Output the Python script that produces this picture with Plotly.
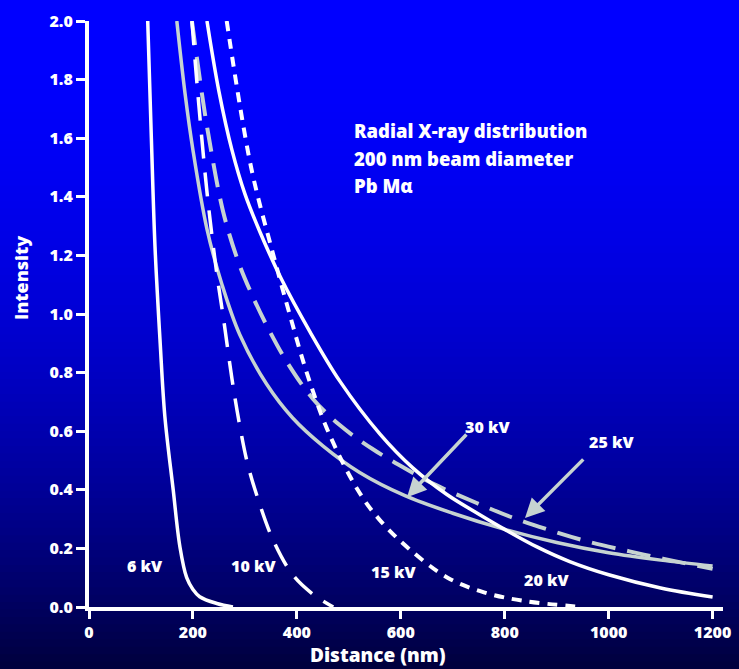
import plotly.graph_objects as go

# ---- data ----
x_6kv = [113, 120, 127, 137, 146, 162, 175, 188, 200, 213, 246, 277]
y_6kv = [2.0, 1.6, 1.23, 0.9, 0.65, 0.40, 0.205, 0.10, 0.06, 0.035, 0.012, 0.0]

x_10kv = [198, 212, 228, 245, 260, 275, 290, 305, 325, 354, 392, 430, 470]
y_10kv = [2.0, 1.7, 1.4, 1.15, 0.97, 0.78, 0.62, 0.49, 0.37, 0.23, 0.11, 0.045, 0.0]

x_15kv = [265, 312, 355, 386, 419, 460, 517, 558, 615, 690, 760, 840, 950]
y_15kv = [2.0, 1.5, 1.2, 1.0, 0.8, 0.6, 0.4, 0.3, 0.2, 0.1, 0.05, 0.02, 0.0]

x_20kv = [227, 250, 275, 300, 329, 370, 425, 483, 560, 623, 688, 752, 800, 862, 925, 1000, 1100, 1200]
y_20kv = [2.0, 1.76, 1.56, 1.41, 1.28, 1.12, 0.94, 0.77, 0.59, 0.475, 0.385, 0.315, 0.265, 0.205, 0.155, 0.11, 0.065, 0.034]

x_25kv = [198, 215, 229, 258, 287, 315, 348, 383, 431, 483, 545, 611, 669, 746, 815, 887, 963, 1040, 1104, 1200]
y_25kv = [2.0, 1.78, 1.62, 1.35, 1.18, 1.06, 0.94, 0.83, 0.71, 0.62, 0.54, 0.47, 0.415, 0.355, 0.305, 0.262, 0.222, 0.19, 0.165, 0.13]

x_30kv = [169, 185, 200, 227, 256, 290, 342, 392, 450, 520, 608, 700, 800, 900, 1000, 1100, 1200]
y_30kv = [2.0, 1.75, 1.56, 1.29, 1.10, 0.93, 0.76, 0.645, 0.55, 0.46, 0.38, 0.32, 0.265, 0.22, 0.185, 0.16, 0.14]

x_ticks = [0, 200, 400, 600, 800, 1000, 1200]
y_ticks = [0.0, 0.2, 0.4, 0.6, 0.8, 1.0, 1.2, 1.4, 1.6, 1.8, 2.0]

kv_labels = ["6 kV", "10 kV", "15 kV", "20 kV", "30 kV", "25 kV"]
kv_label_x = [108, 316, 585, 880, 766, 1006]
kv_label_y = [0.14, 0.14, 0.12, 0.092, 0.614, 0.563]

info_lines = ["Radial X-ray distribution", "200 nm beam diameter", "Pb M\u03b1"]

WHITE = "#ffffff"
GRAY = "#c6d3d1"
FONT = "Open Sans"
WEIGHT = 800

fig = go.Figure()

def add(x, y, color, dash, width):
    fig.add_trace(go.Scatter(x=x, y=y, mode="lines",
                             line=dict(color=color, width=width, dash=dash, shape="spline", smoothing=1.0),
                             hoverinfo="skip", showlegend=False))

add(x_30kv, y_30kv, GRAY, "solid", 3.5)
add(x_25kv, y_25kv, GRAY, "24px,12px", 4)
add(x_6kv, y_6kv, WHITE, "solid", 3.5)
add(x_10kv, y_10kv, WHITE, "24px,14px", 3.5)
add(x_15kv, y_15kv, WHITE, "10px,8px", 4)
add(x_20kv, y_20kv, WHITE, "solid", 3.5)

# ---- gradient background via paper-referenced bands ----
W, H = 739, 669
L, R, T, B = 89, 16, 21, 62
pw, ph = W - L - R, H - T - B
shapes = []
N = 90
for i in range(N):
    t0 = i / N
    t1 = (i + 1) / N
    tm = (t0 + t1) / 2
    c = int(round(255 - 195 * tm ** 2))
    y_top_px = t0 * H
    y_bot_px = t1 * H + 1
    shapes.append(dict(type="rect", xref="paper", yref="paper", layer="below",
                       x0=-L / pw - 0.01, x1=1 + R / pw + 0.01,
                       y0=(H - B - y_bot_px) / ph, y1=(H - B - y_top_px) / ph,
                       fillcolor=f"rgb(0,0,{c})", line=dict(width=0)))

annotations = []
for txt, xx, yy in zip(kv_labels, kv_label_x, kv_label_y):
    annotations.append(dict(x=xx, y=yy, xref="x", yref="y", text=txt, showarrow=False,
                            xanchor="center", yanchor="middle",
                            font=dict(family=FONT, size=16, color=WHITE, weight=WEIGHT)))

info_y = [1.628, 1.532, 1.437]
for txt, yy in zip(info_lines, info_y):
    annotations.append(dict(x=506, y=yy, xref="x", yref="y", text=txt, showarrow=False,
                            xanchor="left", yanchor="middle",
                            font=dict(family=FONT, size=18.5, color=WHITE, weight=WEIGHT)))

# arrows
annotations.append(dict(x=612, y=0.375, ax=729, ay=0.594, xref="x", yref="y", axref="x", ayref="y",
                        text="", showarrow=True, arrowhead=2, arrowsize=1.1, arrowwidth=3.5, arrowcolor=GRAY))
annotations.append(dict(x=839, y=0.304, ax=954, ay=0.509, xref="x", yref="y", axref="x", ayref="y",
                        text="", showarrow=True, arrowhead=2, arrowsize=1.1, arrowwidth=3.5, arrowcolor=GRAY))

# axis titles
annotations.append(dict(x=(21 - L) / pw, y=(H - B - 278) / ph, xref="paper", yref="paper",
                        xanchor="center", yanchor="middle",
                        text="Intensity", textangle=-90, showarrow=False,
                        font=dict(family=FONT, size=18, color=WHITE, weight=WEIGHT)))
annotations.append(dict(x=(378 - L) / pw, y=(H - B - 655) / ph, xref="paper", yref="paper",
                        xanchor="center", yanchor="middle",
                        text="Distance (nm)", showarrow=False,
                        font=dict(family=FONT, size=19, color=WHITE, weight=WEIGHT)))

fig.update_layout(
    width=W, height=H,
    margin=dict(l=L, r=R, t=T, b=B, autoexpand=False),
    paper_bgcolor="#0000b0",
    plot_bgcolor="rgba(0,0,0,0)",
    shapes=shapes,
    annotations=annotations,
    hovermode=False,
    xaxis=dict(range=[0, 1220], tickvals=x_ticks, ticktext=[str(v) for v in x_ticks],
               automargin=False,
               showgrid=False, zeroline=False, showline=True, linecolor=WHITE, linewidth=4,
               ticks="outside", ticklen=8, tickwidth=3, tickcolor=WHITE,
               tickfont=dict(family=FONT, size=16, color=WHITE, weight=WEIGHT)),
    yaxis=dict(range=[0, 2.0], tickvals=y_ticks, ticktext=[f"{v:.1f}" for v in y_ticks],
               automargin=False,
               showgrid=False, zeroline=False, showline=True, linecolor=WHITE, linewidth=4,
               ticks="outside", ticklen=9, tickwidth=3, tickcolor=WHITE,
               tickfont=dict(family=FONT, size=16, color=WHITE, weight=WEIGHT)),
)

fig.write_html("out.html", config={"displayModeBar": False},
               post_script="document.body.style.margin='0';document.body.style.overflow='hidden';")
